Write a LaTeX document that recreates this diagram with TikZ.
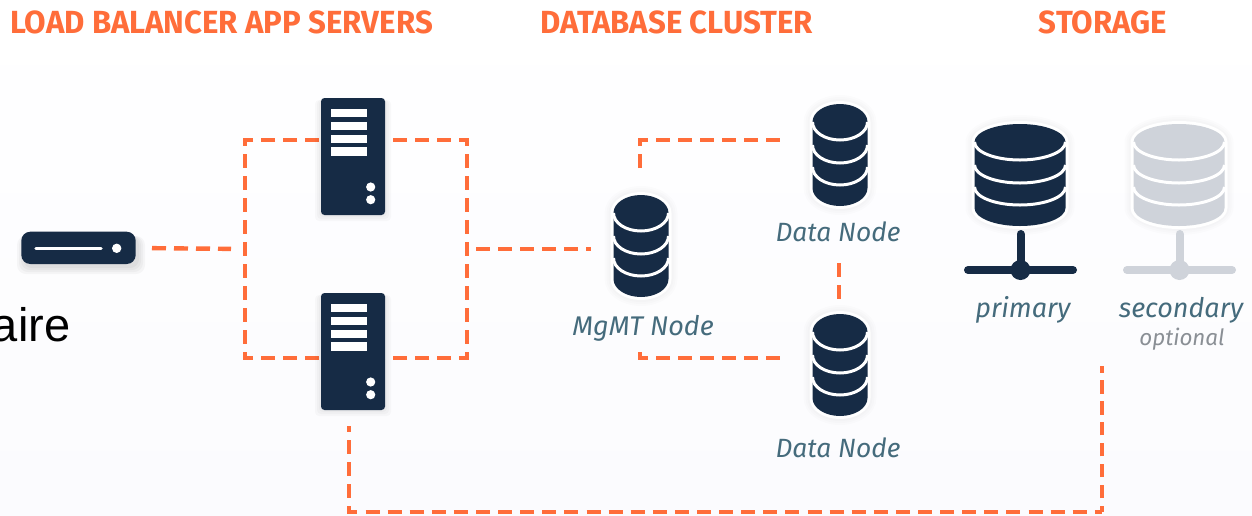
\documentclass[tikz,border=0pt]{standalone}
\usepackage{fontspec}
\setmainfont{Fira Sans}
\newfontfamily\arialfont{Liberation Sans}
\newfontfamily\hdrfont[FakeStretch=0.974]{Fira Sans Bold}
\definecolor{navy}{HTML}{162B45}
\definecolor{paleicon}{HTML}{CFD3DA}
\definecolor{dashorange}{HTML}{FF6D3A}
\definecolor{labelteal}{HTML}{456B7C}
\definecolor{optgrey}{HTML}{8A8F95}
\definecolor{bottomtint}{HTML}{FBFBFE}
\newcommand{\dbicon}[4]{% cx, top, half width, colour
  \begin{scope}[shift={(#1,#2)}]
    \foreach \g in {9,7,5,3}{
      \fill[black,opacity=.012] (-#3-\g,18) arc[start angle=180,end angle=360,x radius=#3+\g,y radius=18+\g]
        -- (#3+\g,84) arc[start angle=0,end angle=180,x radius=#3+\g,y radius=18+\g] -- cycle;}
    \path[draw=white,line width=6pt,line join=round,fill=#4]
      (-#3,18) arc[start angle=180,end angle=360,x radius=#3,y radius=18]
      -- (#3,84) arc[start angle=0,end angle=180,x radius=#3,y radius=18] -- cycle;
    \fill[#4] (-#3,18) arc[start angle=180,end angle=360,x radius=#3,y radius=18]
      -- (#3,84) arc[start angle=0,end angle=180,x radius=#3,y radius=18] -- cycle;
    \foreach \e in {18,41,63}{
      \draw[white,line width=3pt] (-#3,\e) arc[start angle=180,end angle=0,x radius=#3,y radius=18];}
  \end{scope}}
\newcommand{\servericon}[2]{% cx, top
  \begin{scope}[shift={(#1,#2)}]
    \foreach \g in {6,4,2}{
      \fill[black,opacity=.025,rounded corners=4pt] (-32-\g,2) rectangle (32+\g,117+\g);}
    \fill[navy,rounded corners=3.5pt] (-32,0) rectangle (32,117);
    \foreach \b in {11,24,36.7,49.4}{
      \fill[white] (-22,\b) rectangle (13.5,\b+8.4);}
    \fill[white] (17.7,89) circle[radius=4.6] (17.7,101.7) circle[radius=4.6];
  \end{scope}}
\tikzset{
  x=1pt,y=-1pt,
  conn/.style={draw=dashorange,line width=4.4pt,dash pattern=on 14pt off 8pt},
  slot/.style={inner sep=0pt,outer sep=0pt,minimum width=#1},
  hdr/.style={text=dashorange,anchor=base,inner sep=0pt,font=\hdrfont\fontsize{32}{34}\selectfont},
  lbl/.style={text=labelteal,anchor=base,inner sep=0pt,font=\fontsize{27}{30}\selectfont\itshape},
  datalbl/.style={lbl,font=\fontsize{26.4}{30}\selectfont\itshape},
  optlbl/.style={text=optgrey,anchor=base,inner sep=0pt,font=\fontsize{22.4}{26}\selectfont\itshape},
  stemline/.style={line width=8pt,line cap=round}
}
\begin{document}
\begin{tikzpicture}
\useasboundingbox (0,0) rectangle (1252,515);
\shade[top color=white,bottom color=bottomtint] (0,0) rectangle (1252,515);

% anchors of the icons
\node[slot=114pt,minimum height=32pt] (lb) at (78.5,248) {};
\node[slot=64pt,minimum height=117pt] (app1) at (353,156.5) {};
\node[slot=64pt,minimum height=117pt] (app2) at (353,351.5) {};
\node[slot=55pt,minimum height=102pt] (mgmt) at (641,246) {};
\node[slot=55pt,minimum height=102pt] (data1) at (840,155) {};
\node[slot=55pt,minimum height=102pt] (data2) at (840,365) {};
\node[slot=91pt,minimum height=101pt] (primary) at (1020,175) {};
\node[slot=91pt,minimum height=101pt] (secondary) at (1179,175) {};

% named connector ends and corners
\coordinate (jl) at (245,249);
\coordinate (jr) at (467,249);
\coordinate (tl) at (245,140);
\coordinate (tr) at (467,140);
\coordinate (bl) at (245,358);
\coordinate (br) at (467,358);
\coordinate (mt) at (640,140);
\coordinate (mb) at (640,358);
\coordinate (mts) at (640,168);
\coordinate (mbs) at (640,352);
\coordinate (dv1) at (839,263);
\coordinate (dv2) at (839,300);
\coordinate (ss) at (349,426);
\coordinate (sb) at (349,512);
\coordinate (sc) at (1102,512);
\coordinate (se) at (1102,366);

% connectors
\draw[conn,shorten <=16.5pt,shorten >=14pt] (lb.east) -- (jl);
\draw[conn,dash phase=10pt] (app1.center |- tl) -- (tl) -- (bl) -- (app2.center |- bl);
\draw[conn,dash phase=4pt] (app1.center |- tr) -- (tr) -- (br) -- (app2.center |- br);
\draw[conn,shorten <=9pt,shorten >=22.5pt] (jr) -- (mgmt.west |- jr);
\draw[conn] (mts) -- (mt) -- ([xshift=-32pt]mt -| data1.west);
\draw[conn] (mbs) -- (mb) -- ([xshift=-32pt]mb -| data2.west);
\draw[conn] (dv1) -- (dv2);
\draw[conn,dash pattern=on 14pt off 8.1pt,dash phase=8pt] (ss) -- (sb) -- (sc);
\draw[conn,dash pattern=on 13.5pt off 7.4pt,dash phase=7pt] (sc) -- (se);

% icons
\foreach \g in {8,6,4,2}{
  \fill[black,opacity=.03,rounded corners=9pt] (25-\g,236) rectangle (137+\g,266+\g);}
\fill[navy,rounded corners=9pt] (21.3,231.7) rectangle (135.7,264);
\draw[white,line width=3.5pt,line cap=round] (36,248.3) -- (101,248.3);
\fill[white] (116.7,248.3) circle[radius=4.7];
\servericon{353}{98}
\servericon{353}{293}
\dbicon{641}{195}{27.5}{navy}
\dbicon{840}{104}{27.5}{navy}
\dbicon{840}{314}{27.5}{navy}
\dbicon{1020}{124}{45.5}{navy}
\dbicon{1179}{124}{45.5}{paleicon}
\draw[navy,stemline] (1020.5,234) -- (1020.5,270);
\draw[navy,stemline] (968,270) -- (1073,270);
\fill[navy] (1020.5,270) circle[radius=10];
\draw[paleicon,stemline] (1179.5,234) -- (1179.5,270);
\draw[paleicon,stemline] (1127,270) -- (1232,270);
\fill[paleicon] (1179.5,270) circle[radius=10];

% texts
\node[hdr] (h1) at (221.5,33) {LOAD BALANCER APP SERVERS};
\node[hdr] (h2) at (676.5,33) {DATABASE CLUSTER};
\node[hdr] (h3) at (1103,33) {STORAGE};
\node[lbl] (l1) at (643,335) {MgMT Node};
\node[datalbl] (l2) at (838,241) {Data Node};
\node[datalbl] (l3) at (838,457) {Data Node};
\node[lbl] (l4) at (1023,317) {primary};
\node[lbl] (l5) at (1181,317) {secondary};
\node[optlbl] (l6) at (1182,345) {optional};
\node[anchor=base east,inner sep=0pt,text=black,font=\arialfont\fontsize{47}{50}\selectfont] (aire) at (70.5,341) {aire};
\end{tikzpicture}
\end{document}
